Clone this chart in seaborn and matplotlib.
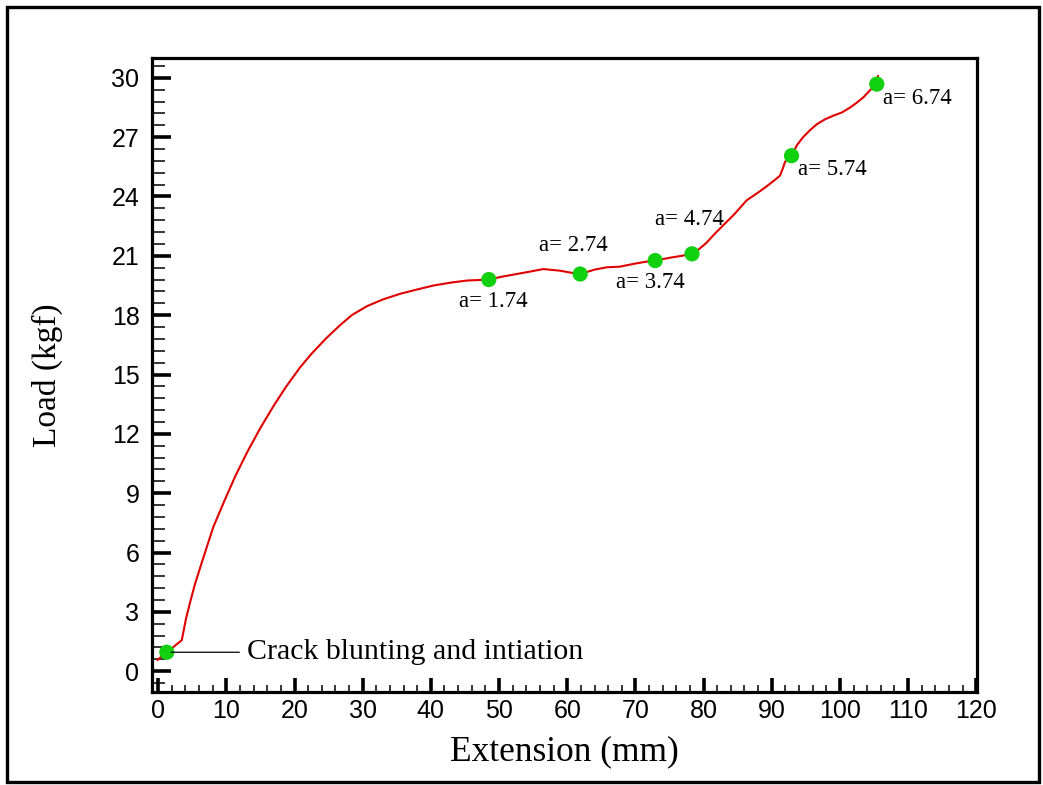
import matplotlib
matplotlib.use("Agg")
import matplotlib.pyplot as plt
from matplotlib.patches import Rectangle
from matplotlib.ticker import MultipleLocator
import numpy as np
import pandas as pd
import seaborn as sns

# ---- data ----
extension = [-0.1, 0.5, 1.27, 2.5, 3.47, 3.7, 4.1, 4.7, 5.4, 6.5, 8.1, 9.7, 11.3, 13.1,
             15.0, 17.0, 18.8, 20.8, 22.5, 24.7, 26.7, 28.4, 30.6, 33.0, 35.5, 38.0,
             40.4, 43.0, 45.3, 48.5, 50.5, 52.6, 54.5, 56.5, 58.9, 60.5, 61.9, 64.0,
             65.8, 67.7, 69.7, 71.5, 72.9, 75.0, 76.8, 78.3, 79.2, 80.4, 81.6, 82.9,
             84.5, 86.3, 88.0, 89.2, 90.5, 91.2, 91.6, 91.9, 92.3, 92.9, 93.7, 94.6,
             95.6, 96.6, 97.8, 99.0, 100.3, 101.5, 102.5, 103.4, 104.5, 105.4, 105.6]
load = [0.56, 0.75, 0.94, 1.3, 1.57, 1.98, 2.68, 3.5, 4.4, 5.6, 7.3, 8.6, 9.85, 11.1,
        12.3, 13.45, 14.4, 15.35, 16.05, 16.85, 17.5, 18.0, 18.45, 18.8, 19.08, 19.3,
        19.5, 19.65, 19.75, 19.8, 19.95, 20.08, 20.2, 20.33, 20.25, 20.15, 20.08, 20.3,
        20.42, 20.45, 20.59, 20.7, 20.76, 20.9, 21.0, 21.1, 21.3, 21.65, 22.1, 22.55,
        23.1, 23.8, 24.2, 24.5, 24.85, 25.05, 25.4, 25.7, 25.95, 26.06, 26.6, 27.0,
        27.35, 27.65, 27.9, 28.08, 28.25, 28.5, 28.75, 29.0, 29.4, 29.68, 30.1]

crack_ext = [1.27, 48.5, 61.9, 72.9, 78.3, 92.9, 105.4]
crack_load = [0.96, 19.8, 20.08, 20.76, 21.1, 26.06, 29.68]
crack_labels = ["Crack blunting and intiation", "a= 1.74", "a= 2.74", "a= 3.74",
                "a= 4.74", "a= 5.74", "a= 6.74"]

x_ticks = list(range(0, 121, 10))
y_ticks = list(range(0, 31, 3))

curve = pd.DataFrame({"Extension": extension, "Load": load})
pts = pd.DataFrame({"Extension": crack_ext, "Load": crack_load})

# ---- figure ----
sns.set_style("white")
serif = ["Liberation Serif", "DejaVu Serif"]
sans = ["Liberation Sans", "DejaVu Sans"]
plt.rcParams["font.family"] = sans
plt.rcParams["text.color"] = "black"
plt.rcParams["axes.labelcolor"] = "black"
plt.rcParams["xtick.color"] = "black"
plt.rcParams["ytick.color"] = "black"

fig = plt.figure(figsize=(10.43, 7.85), dpi=100)
ax = fig.add_axes([152 / 1043, 1 - 692 / 785, 825 / 1043, 634 / 785])

sns.lineplot(data=curve, x="Extension", y="Load", sort=False, estimator=None,
             color="#e00000", lw=1.5, ax=ax, zorder=2)
sns.scatterplot(data=pts, x="Extension", y="Load", color="#10d010", s=120,
                edgecolor="none", ax=ax, zorder=3)

offsets = [(57.6, 0), (-21.6, -15.8), (-29.5, 20.2), (-28, -15.8), (-26.6, 24.5),
           (4.3, -10), (4.3, -10)]
for i, (xx, yy, lab) in enumerate(zip(crack_ext, crack_load, crack_labels)):
    if i == 0:
        ax.annotate(lab, xy=(xx, yy), xytext=offsets[i], textcoords="offset points",
                    ha="left", va="center", fontsize=21.5, family=serif, color="black",
                    arrowprops=dict(arrowstyle="-", color="black", lw=0.9,
                                    shrinkA=3, shrinkB=3))
    else:
        ax.annotate(lab, xy=(xx, yy), xytext=offsets[i], textcoords="offset points",
                    ha="left", va="center", fontsize=16.5, family=serif, color="black")

ax.set_xlim(-0.9, 120.1)
ax.set_ylim(-1.05, 31.0)
ax.set_xticks(x_ticks)
ax.set_yticks(y_ticks)
ax.xaxis.set_minor_locator(MultipleLocator(2))
ax.yaxis.set_minor_locator(MultipleLocator(0.6))

ax.tick_params(axis="both", which="both", direction="in", bottom=True, left=True,
               top=False, right=False, colors="black")
ax.tick_params(axis="y", which="major", length=14, width=2.6, pad=9, labelsize=18)
ax.tick_params(axis="y", which="minor", length=9, width=1.1)
ax.tick_params(axis="x", which="major", length=10, width=2.6, pad=5, labelsize=18)
ax.tick_params(axis="x", which="minor", length=5, width=1.1)
for lab in ax.get_xticklabels() + ax.get_yticklabels():
    lab.set_family(sans)

for sp in ax.spines.values():
    sp.set_visible(True)
    sp.set_linewidth(2.3)
    sp.set_color("black")

ax.set_xlabel("Extension (mm)", fontsize=25.5, family=serif, va="center", color="black")
ax.set_ylabel("Load (kgf)", fontsize=24, family=serif, va="center", color="black")
ax.xaxis.set_label_coords(0.5, -(752 - 692) / 634)
ax.yaxis.set_label_coords((47 - 152) / 825, 0.5)

# outer frame
fig.patches.append(Rectangle((7 / 1043, 1 - 782 / 785), (1039 - 7) / 1043,
                             (782 - 6.5) / 785, transform=fig.transFigure,
                             fill=False, edgecolor="black", lw=2.4))

fig.savefig("out.png", dpi=100)
